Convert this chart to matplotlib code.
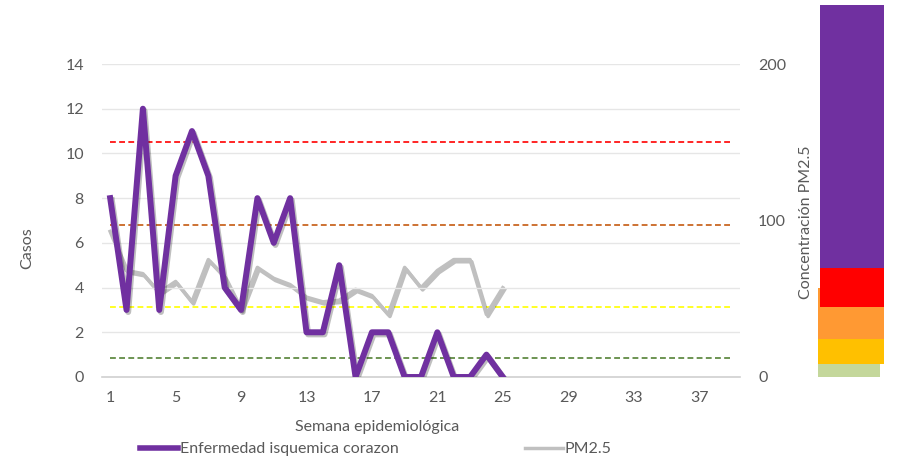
import numpy as np
import matplotlib
matplotlib.use("Agg")
import matplotlib.pyplot as plt
import matplotlib.patheffects as pe

plt.rcParams['font.family'] = ['Lato', 'DejaVu Sans']

# weeks shown on the category axis
semanas = np.arange(1, 40)
tick_semanas = [1, 5, 9, 13, 17, 21, 25, 29, 33, 37]

# cases (left axis), weeks 1-25
casos = [8, 3, 12, 3, 9, 11, 9, 4, 3, 8, 6, 8, 2, 2, 5, 0, 2, 2, 0, 0, 2, 0, 0, 1, 0]
# PM2.5 concentration (right axis), weeks 1-25
pm25 = [93, 68, 66, 54, 61, 48, 75, 64, 43, 70, 63, 59, 51, 48, 49, 56, 52, 40,
        70, 57, 68, 75, 75, 40, 57]

# reference levels (right axis units) and their colours
niveles = [150, 97, 45, 12]
colores_niveles = ['#FF0000', '#C55A11', '#FFFF00', '#548235']

# colour scale bar segments (bottom, top) in concentration units
escala_inf = [0, 8, 24, 45, 70]
escala_sup = [8, 24, 57, 70, 238]
escala_col = ['#C4D79B', '#FFC000', '#FF9933', '#FF0000', '#7030A0']

gris = '#595959'
W, H = 904, 462
fig = plt.figure(figsize=(W / 100, H / 100), dpi=100)

# main axes in pixel layout: x 102..740, y 64..377
ax = fig.add_axes([102 / W, (H - 377) / H, 638 / W, 313 / H])
ax2 = ax.twinx()

ax.set_xlim(0.5, 39.5)
ax.set_ylim(0, 14)
ax2.set_ylim(0, 200)

ax.set_yticks(range(0, 15, 2))
ax2.set_yticks([0, 100, 200])
ax.set_xticks(tick_semanas)
ax.grid(axis='y', color='#E6E6E6', lw=1)
ax.set_axisbelow(True)

for a in (ax, ax2):
    for s in a.spines.values():
        s.set_visible(False)
ax.spines['bottom'].set_visible(True)
ax.spines['bottom'].set_color('#D0D0D0')
ax.spines['bottom'].set_linewidth(1.2)

ax.tick_params(axis='both', length=0, colors=gris, labelsize=11.5)
ax.tick_params(axis='y', pad=13)
ax.tick_params(axis='x', pad=10)
ax2.tick_params(axis='y', length=0, colors=gris, labelsize=11.5, pad=13)

# reference dashed lines across all weeks
for nivel, c in zip(niveles, colores_niveles):
    ax2.plot([semanas[0], semanas[-1]], [nivel, nivel], color=c, lw=1.2,
             dashes=(3.5, 2), zorder=2)

sombra = [pe.SimpleLineShadow(offset=(1.2, -1.5), shadow_color='k', alpha=0.25),
          pe.Normal()]
ax2.plot(semanas[:len(pm25)], pm25, color='#C0C0C0', lw=2.6, zorder=3,
         path_effects=sombra, solid_joinstyle='round')
ax.plot(semanas[:len(casos)], casos, color='#7030A0', lw=4.3, zorder=4,
        path_effects=sombra, solid_joinstyle='round')
ax.set_zorder(ax2.get_zorder() + 1)
ax.patch.set_visible(False)

# colour scale bar on the right
cb = fig.add_axes([818 / W, (H - 377) / H, 66 / W, 372 / H])
cb.set_xlim(0, 66)
cb.set_ylim(0, 238)
cb.axis('off')
izq = [0, 0, 0, 2, 2]
anch = [62, 66, 66, 64, 64]
for b, t, c, x0, w in zip(escala_inf, escala_sup, escala_col, izq, anch):
    cb.bar(x0, t - b, bottom=b, width=w, align='edge', color=c, lw=0)

# axis titles
fig.text(27 / W, 1 - 248 / H, 'Casos', rotation=90, ha='center', va='center',
         color=gris, fontsize=11.5)
fig.text(806 / W, 1 - 222 / H, 'Concentración PM2.5', rotation=90,
         ha='center', va='center', color=gris, fontsize=11.5)
fig.text(377 / W, 1 - 427 / H, 'Semana epidemiológica', ha='center',
         va='center', color=gris, fontsize=11.5)

# legend
h1, = ax.plot([], [], color='#7030A0', lw=4)
h2, = ax.plot([], [], color='#C0C0C0', lw=2.5)
fig.legend([h1, h2], ['Enfermedad isquemica corazon', 'PM2.5'], ncol=2,
           loc='center', bbox_to_anchor=(376 / W, 1 - 449 / H), frameon=False,
           fontsize=11.5, labelcolor=gris, handlelength=2.4, handletextpad=0.1,
           columnspacing=7.9)

fig.savefig('out.png', dpi=100)
